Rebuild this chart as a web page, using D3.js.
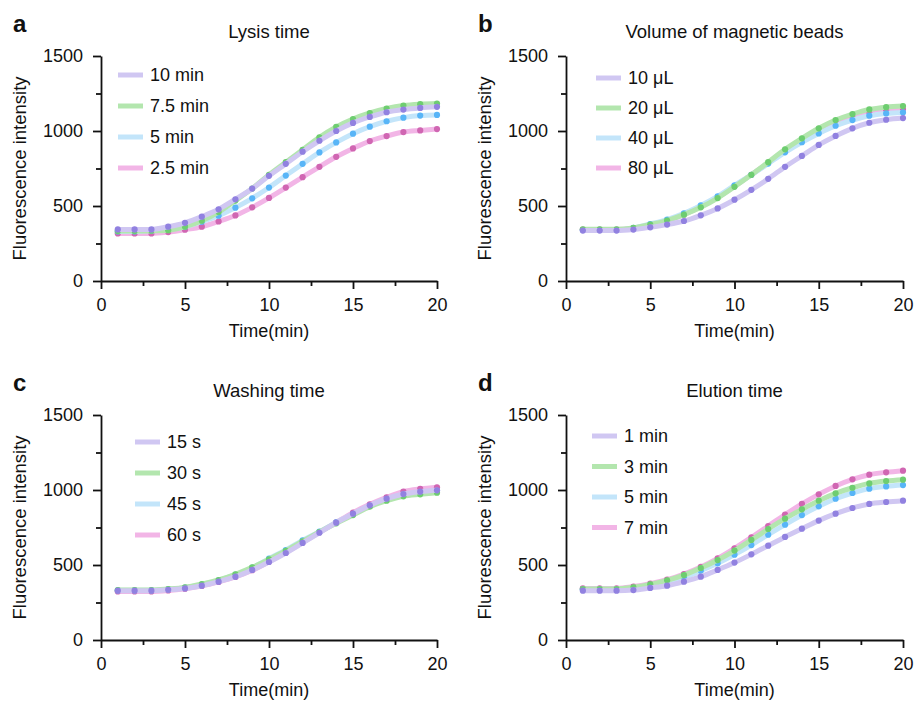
<html>
<head>
<meta charset="utf-8">
<title>Fluorescence curves</title>
<style>
  body { margin: 0; background: #fff; }
  svg text { font-family: "Liberation Sans", Arial, Helvetica, sans-serif; fill: #111; }
  .axis path, .axis line { stroke: #111; stroke-width: 1.8; }
  .axis text { font-size: 18px; }
</style>
<script src="https://d3js.org/d3.v7.min.js"></script>
</head>
<body>
<svg width="915" height="701"></svg>
<script>
var times = [1,2,3,4,5,6,7,8,9,10,11,12,13,14,15,16,17,18,19,20];
var xTicks = [0,5,10,15,20];
var yTicks = [0,500,1000,1500];

// panel a: lysis time
var lysisNames = ["10 min","7.5 min","5 min","2.5 min"];
var lysis10 = [344,344,344,362,388,429,478,545,616,701,781,862,935,1000,1054,1094,1125,1143,1154,1161];
var lysis75 = [333,333,335,339,362,402,460,536,616,708,792,875,958,1027,1080,1120,1150,1170,1179,1183];
var lysis5  = [330,330,335,344,362,395,435,489,551,623,703,781,857,924,982,1029,1065,1089,1103,1107];
var lysis25 = [317,317,317,326,342,362,397,437,491,554,623,692,761,828,884,933,966,993,1004,1013];

// panel b: volume of magnetic beads
var beadNames = ["10 \u03bcL","20 \u03bcL","40 \u03bcL","80 \u03bcL"];
var bead10 = [336,336,336,343,358,376,400,438,484,542,608,681,761,834,907,967,1018,1055,1075,1086];
var bead20 = [345,345,345,354,376,403,442,491,553,628,708,792,878,951,1018,1073,1113,1144,1159,1166];
var bead40 = [340,340,340,354,380,409,451,504,564,637,708,783,858,925,984,1035,1073,1102,1117,1124];
var bead80 = [343,343,343,352,374,402,444,495,557,633,708,787,867,938,1002,1057,1095,1121,1137,1146];

// panel c: washing time
var washNames = ["15 s","30 s","45 s","60 s"];
var wash15 = [329,329,329,335,344,362,389,422,467,520,580,647,715,782,842,898,942,973,989,998];
var wash30 = [333,333,333,340,351,373,400,438,484,538,595,658,720,778,833,889,929,958,971,982];
var wash45 = [331,331,331,338,349,370,398,436,482,542,600,664,722,784,840,895,938,970,985,995];
var wash60 = [324,324,324,330,342,360,387,420,465,522,582,650,718,784,849,904,951,989,1007,1018];

// panel d: elution time
var eluNames = ["1 min","3 min","5 min","7 min"];
var elu1 = [329,329,329,333,347,362,389,422,467,516,571,629,687,742,796,842,880,907,920,929];
var elu3 = [340,340,340,351,371,398,433,480,533,596,667,740,809,871,929,978,1015,1044,1060,1069];
var elu5 = [338,338,338,344,362,387,418,462,511,569,633,702,769,833,891,942,980,1009,1024,1033];
var elu7 = [344,344,344,356,376,402,440,487,544,611,684,760,836,907,971,1027,1071,1102,1118,1129];

var lineColors = ["#d0c7f2","#b3e6ae","#c3e5fa","#f2b5e6"];
var dotColors  = ["#9181e0","#6ecd70","#58b5f7","#d066b2"];

var panels = [
  {letter:"a", title:"Lysis time", names:lysisNames, series:[lysis10,lysis75,lysis5,lysis25],
   x0:101, y0:56, w:336, h:225, lx:17, ly:19, ldy:31},
  {letter:"b", title:"Volume of magnetic beads", names:beadNames, series:[bead10,bead20,bead40,bead80],
   x0:566, y0:56, w:337, h:225, lx:30, ly:22, ldy:30},
  {letter:"c", title:"Washing time", names:washNames, series:[wash15,wash30,wash45,wash60],
   x0:101, y0:415, w:336, h:225, lx:34, ly:27, ldy:31},
  {letter:"d", title:"Elution time", names:eluNames, series:[elu1,elu3,elu5,elu7],
   x0:566, y0:415, w:337, h:225, lx:26, ly:21, ldy:30.5}
];

var svg = d3.select("svg");

panels.forEach(function(p){
  var g = svg.append("g").attr("transform","translate(" + p.x0 + "," + p.y0 + ")");
  var x = d3.scaleLinear().domain([0,20]).range([0,p.w]);
  var y = d3.scaleLinear().domain([0,1500]).range([p.h,0]);

  // minor ticks first, then major axes on top
  g.append("g").attr("class","axis")
    .attr("transform","translate(0," + p.h + ")")
    .call(d3.axisBottom(x).tickValues([2.5,7.5,12.5,17.5]).tickSize(5).tickFormat(""))
    .select(".domain").remove();
  g.append("g").attr("class","axis")
    .call(d3.axisLeft(y).tickValues([250,750,1250]).tickSize(5).tickFormat(""))
    .select(".domain").remove();

  g.append("g").attr("class","axis")
    .attr("transform","translate(0," + p.h + ")")
    .call(d3.axisBottom(x).tickValues(xTicks).tickSize(8).tickSizeOuter(0).tickPadding(9).tickFormat(d3.format("d")));
  g.append("g").attr("class","axis")
    .call(d3.axisLeft(y).tickValues(yTicks).tickSize(8).tickSizeOuter(0).tickPadding(10).tickFormat(d3.format("d")));

  var line = d3.line()
    .x(function(d,i){ return x(times[i]); })
    .y(function(d){ return y(d); })
    .curve(d3.curveMonotoneX);

  // draw last series first so the first one sits on top
  for (var k = p.series.length - 1; k >= 0; k--) {
    var s = p.series[k];
    g.append("path").datum(s)
      .attr("d", line)
      .attr("fill","none")
      .attr("stroke", lineColors[k])
      .attr("stroke-width", 5)
      .attr("stroke-linecap","round");
    g.append("g").selectAll("circle").data(s).enter().append("circle")
      .attr("cx", function(d,i){ return x(times[i]); })
      .attr("cy", function(d){ return y(d); })
      .attr("r", 3.1)
      .attr("fill", dotColors[k]);
  }

  // legend
  var lg = g.append("g").attr("transform","translate(" + p.lx + "," + p.ly + ")");
  p.names.forEach(function(n,i){
    lg.append("line")
      .attr("x1",0).attr("x2",25)
      .attr("y1",i*p.ldy).attr("y2",i*p.ldy)
      .attr("stroke",lineColors[i]).attr("stroke-width",5);
    lg.append("text")
      .attr("x",32).attr("y",i*p.ldy).attr("dy","0.36em")
      .style("font-size","18px")
      .text(n);
  });

  // title, axis labels, panel letter
  g.append("text")
    .attr("x", p.w/2).attr("y", -18)
    .attr("text-anchor","middle")
    .style("font-size","18.5px")
    .text(p.title);

  g.append("text")
    .attr("x", p.w/2).attr("y", p.h + 56)
    .attr("text-anchor","middle")
    .style("font-size","18px")
    .text("Time(min)");

  g.append("text")
    .attr("transform","translate(-75," + (p.h/2) + ") rotate(-90)")
    .attr("text-anchor","middle")
    .style("font-size","18.5px")
    .text("Fluorescence intensity");

  g.append("text")
    .attr("x", -88).attr("y", -24)
    .style("font-size","24px")
    .style("font-weight","bold")
    .text(p.letter);
});
</script>
</body>
</html>
